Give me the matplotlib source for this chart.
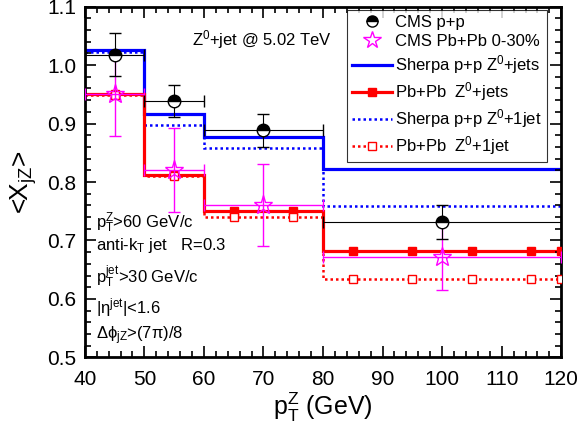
import numpy as np
import matplotlib
matplotlib.use("Agg")
import matplotlib.pyplot as plt
from matplotlib.lines import Line2D
from matplotlib.ticker import MultipleLocator

plt.rcParams['font.family'] = ['Liberation Sans', 'DejaVu Sans']
plt.rcParams['mathtext.fontset'] = 'custom'
plt.rcParams['mathtext.rm'] = 'Liberation Sans'
plt.rcParams['mathtext.it'] = 'Liberation Sans:italic'

# Sherpa / Pb+Pb model histograms (bin edges in pT^Z)
bin_edges = [40, 50, 60, 80, 120]
sherpa_pp_jets = [1.026, 0.916, 0.877, 0.822]
sherpa_pp_1jet = [1.022, 0.898, 0.858, 0.759]
pbpb_jets = [0.951, 0.812, 0.750, 0.682]
pbpb_1jet = [0.949, 0.810, 0.741, 0.634]
marker_x = [45, 55, 65, 75, 85, 95, 105, 115, 120]

# CMS data
data_x = [45, 55, 70, 100]
data_xerr = [5, 5, 10, 20]
cms_pp = [1.018, 0.939, 0.889, 0.732]
cms_pp_up = [0.037, 0.027, 0.028, 0.028]
cms_pp_dn = [0.037, 0.028, 0.029, 0.029]
cms_pbpb = [0.950, 0.820, 0.761, 0.672]
cms_pbpb_up = [0.070, 0.073, 0.070, 0.057]
cms_pbpb_dn = [0.071, 0.071, 0.071, 0.056]


def step_at(xs, edges, vals):
    idx = np.clip(np.searchsorted(edges, xs, side='right') - 1, 0, len(vals) - 1)
    return np.array(vals)[idx]


fig = plt.figure(figsize=(5.81, 4.37), dpi=100)
ax = fig.add_axes([0.146, 0.182, 0.820, 0.803])

blue = '#0000ff'
red = '#ff0000'
mag = '#ff00ff'

ax.stairs(sherpa_pp_jets, bin_edges, color=blue, lw=2.3, baseline=None)
ax.stairs(sherpa_pp_1jet, bin_edges, color=blue, lw=1.8, ls=(0, (1, 1.2)), baseline=None)
ax.stairs(pbpb_1jet, bin_edges, color=red, lw=1.8, ls=(0, (1, 1.2)), baseline=None)
ax.stairs(pbpb_jets, bin_edges, color=red, lw=2.3, baseline=None)

mx = np.array(marker_x)
ax.plot(mx, step_at(mx, bin_edges, pbpb_jets), ls='none', marker='s', ms=6,
        color=red, zorder=4)
ax.plot(mx, step_at(mx, bin_edges, pbpb_1jet), ls='none', marker='s', ms=6,
        mfc='white', mec=red, mew=1.0, zorder=4)

# CMS Pb+Pb
ax.errorbar(data_x, cms_pbpb, xerr=data_xerr, yerr=[cms_pbpb_dn, cms_pbpb_up],
            fmt='none', ecolor=mag, elinewidth=1.0, capsize=4, zorder=5)
ax.plot(data_x, cms_pbpb, ls='none', marker='*', ms=14, mfc='none', mec=mag,
        mew=1.0, zorder=6)

# CMS p+p
ax.errorbar(data_x, cms_pp, xerr=data_xerr, yerr=[cms_pp_dn, cms_pp_up],
            fmt='none', ecolor='black', elinewidth=0.8, capsize=4, zorder=5)
ax.plot(data_x, cms_pp, ls='none', marker='o', ms=9, fillstyle='top',
        mfc='black', mfcalt='white', mec='black', mew=1.0, zorder=7)

ax.set_xlim(40, 120)
ax.set_ylim(0.5, 1.1)
ax.xaxis.set_major_locator(MultipleLocator(10))
ax.xaxis.set_minor_locator(MultipleLocator(2))
ax.yaxis.set_major_locator(MultipleLocator(0.1))
ax.yaxis.set_minor_locator(MultipleLocator(0.02))
ax.tick_params(which='both', direction='in', top=True, right=True, width=1.2,
               labelsize=15)
ax.tick_params(which='major', length=8)
ax.tick_params(which='minor', length=4)
ax.tick_params(axis='x', pad=9)
ax.tick_params(axis='y', pad=6)
for s in ax.spines.values():
    s.set_linewidth(2)

ax.set_xlabel(r'p$_\mathrm{T}^\mathrm{Z}$ (GeV)', fontsize=18, labelpad=1)
ax.set_ylabel(r'<X$_\mathrm{jZ}$>', fontsize=19, labelpad=6)

ax.text(58, 1.043, r'Z$^0$+jet @ 5.02 TeV', fontsize=12, va='center')
txt_kw = dict(fontsize=12, va='center', ha='left')
ax.text(41.8, 0.730, r'p$_\mathrm{T}^\mathrm{Z}$>60 GeV/c', **txt_kw)
ax.text(41.8, 0.692, r'anti-k$_\mathrm{T}$ jet   R=0.3', **txt_kw)
ax.text(41.8, 0.638, r'p$_\mathrm{T}^\mathrm{jet}$>30 GeV/c', **txt_kw)
ax.text(41.8, 0.585, r'|$\mathrm{\eta}^\mathrm{jet}$|<1.6', **txt_kw)
ax.text(41.8, 0.538, r'$\mathrm{\Delta\phi_{jZ}}$>(7$\mathrm{\pi}$)/8', **txt_kw)

handles = [
    Line2D([], [], ls='none', marker='o', ms=8, fillstyle='top', mfc='black',
           mfcalt='white', mec='black'),
    Line2D([], [], ls='none', marker='*', ms=13, mfc='none', mec=mag),
    Line2D([], [], color=blue, lw=2.3),
    Line2D([], [], color=red, lw=2.3, marker='s', ms=6),
    Line2D([], [], color=blue, lw=1.8, ls=(0, (1, 1.2))),
    Line2D([], [], color=red, lw=1.8, ls=(0, (1, 1.2)), marker='s', ms=6,
           mfc='white', mec=red),
]
labels = ['CMS p+p', 'CMS Pb+Pb 0-30%', r'Sherpa p+p Z$^0$+jets',
          r'Pb+Pb  Z$^0$+jets', r'Sherpa p+p Z$^0$+1jet', r'Pb+Pb  Z$^0$+1jet']
leg = ax.legend(handles, labels, loc='upper right', bbox_to_anchor=(0.97, 0.99),
                fontsize=12, frameon=True, fancybox=False, edgecolor='black',
                handlelength=2.4, handletextpad=0.2, labelspacing=0.25,
                borderpad=0.3, borderaxespad=0)
leg.get_frame().set_linewidth(0.8)

fig.savefig('out.png', dpi=100)
